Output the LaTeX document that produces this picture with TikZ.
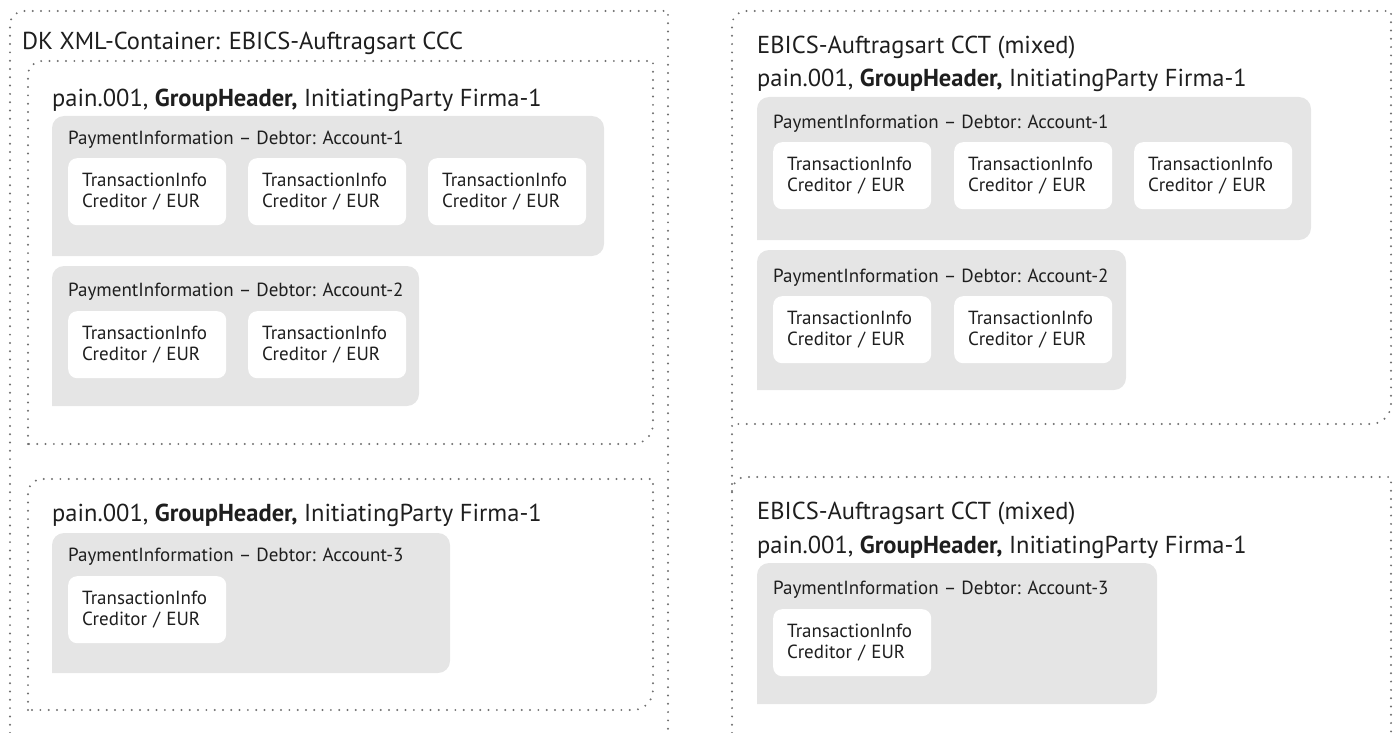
\documentclass[tikz,border=0pt]{standalone}
\usepackage{fontspec}
\setmainfont{PT Sans}
\usepackage{tikz}
\usetikzlibrary{calc}
\definecolor{boxgray}{HTML}{E5E5E5}
\definecolor{dotgray}{HTML}{707070}
\definecolor{inktext}{HTML}{1E1E1E}

\begin{document}
\begin{tikzpicture}[x=1pt, y=1pt,
    frame/.style={draw=dotgray, line width=2.2pt, line cap=round, dash pattern=on 0pt off 8.3pt},
    title/.style={anchor=west, inner sep=0pt, text=inktext, font=\fontsize{24.5}{29}\selectfont},
    pilabel/.style={anchor=west, inner sep=0pt, text=inktext, font=\fontsize{19}{20.5}\selectfont},
    tibox/.style={fill=white, rounded corners=9pt, anchor=north west, minimum width=158pt, minimum height=67pt,
      text width=130pt, inner xsep=14pt, inner ysep=0pt, align=left, text=inktext, font=\fontsize{19}{20.5}\selectfont}]
  \useasboundingbox (0,0) rectangle (1397,-733);

  \draw[frame] (10,-733) [rounded corners=14pt] -- (10,-11) [sharp corners] -- (668,-11) -- (668,-733);
  \node[title] (dk) at (22,-43) {DK XML-Container: EBICS-Auftragsart CCC};

  \draw[frame] (28,-444) [rounded corners=14pt] -- (28,-61) [sharp corners] -- (653,-61) [rounded corners=20pt] -- (653,-444) [sharp corners] -- cycle;
  \node[title] (gh1) at (52,-100) {pain.001, \textbf{GroupHeader,} InitiatingParty Firma-1};
  \fill[boxgray] (52,-256) [rounded corners=12pt] -- (52,-116) -- (604,-116) -- (604,-256) [sharp corners] -- cycle;
  \node[pilabel] (pi1) at (68,-140) {PaymentInformation -- Debtor: Account-1};
  \node[tibox] (ti11) at (68,-158) {TransactionInfo\\Creditor / EUR};
  \node[tibox] (ti12) at (248,-158) {TransactionInfo\\Creditor / EUR};
  \node[tibox] (ti13) at (428,-158) {TransactionInfo\\Creditor / EUR};
  \fill[boxgray] (52,-406) [rounded corners=12pt] -- (52,-266) -- (419,-266) -- (419,-406) [sharp corners] -- cycle;
  \node[pilabel] (pi2) at (68,-292) {PaymentInformation -- Debtor: Account-2};
  \node[tibox] (ti21) at (68,-311) {TransactionInfo\\Creditor / EUR};
  \node[tibox] (ti22) at (248,-311) {TransactionInfo\\Creditor / EUR};

  \draw[frame] (28,-710) [rounded corners=14pt] -- (28,-479) [sharp corners] -- (653,-479) [rounded corners=20pt] -- (653,-710) [sharp corners] -- cycle;
  \node[title] (gh2) at (52,-515) {pain.001, \textbf{GroupHeader,} InitiatingParty Firma-1};
  \fill[boxgray] (52,-673) [rounded corners=12pt] -- (52,-533) -- (450,-533) -- (450,-673) [sharp corners] -- cycle;
  \node[pilabel] (pi3) at (68,-557) {PaymentInformation -- Debtor: Account-3};
  \node[tibox] (ti31) at (68,-576) {TransactionInfo\\Creditor / EUR};

  \draw[frame] (732,-733) [rounded corners=14pt] -- (732,-11) [sharp corners] -- (1391,-11) [rounded corners=20pt] -- (1391,-424) [sharp corners] -- (732,-424);
  \node[title] (cct1) at (757,-47) {EBICS-Auftragsart CCT (mixed)};
  \node[title] (gh3) at (757,-80) {pain.001, \textbf{GroupHeader,} InitiatingParty Firma-1};
  \fill[boxgray] (757,-240) [rounded corners=12pt] -- (757,-97) -- (1311,-97) -- (1311,-240) [sharp corners] -- cycle;
  \node[pilabel] (pi4) at (773,-124) {PaymentInformation -- Debtor: Account-1};
  \node[tibox] (ti41) at (773,-142) {TransactionInfo\\Creditor / EUR};
  \node[tibox] (ti42) at (954,-142) {TransactionInfo\\Creditor / EUR};
  \node[tibox] (ti43) at (1134,-142) {TransactionInfo\\Creditor / EUR};
  \fill[boxgray] (757,-390) [rounded corners=12pt] -- (757,-250) -- (1126,-250) -- (1126,-390) [sharp corners] -- cycle;
  \node[pilabel] (pi5) at (773,-278) {PaymentInformation -- Debtor: Account-2};
  \node[tibox] (ti51) at (773,-296) {TransactionInfo\\Creditor / EUR};
  \node[tibox] (ti52) at (954,-296) {TransactionInfo\\Creditor / EUR};

  \draw[frame] (732,-491) [rounded corners=14pt] -- (732,-477) [sharp corners] -- (1391,-477) -- (1391,-733);
  \node[title] (cct2) at (757,-513) {EBICS-Auftragsart CCT (mixed)};
  \node[title] (gh4) at (757,-547) {pain.001, \textbf{GroupHeader,} InitiatingParty Firma-1};
  \fill[boxgray] (757,-704) [rounded corners=12pt] -- (757,-563) -- (1157,-563) -- (1157,-704) [sharp corners] -- cycle;
  \node[pilabel] (pi6) at (773,-590) {PaymentInformation -- Debtor: Account-3};
  \node[tibox] (ti61) at (773,-609) {TransactionInfo\\Creditor / EUR};
\end{tikzpicture}
\end{document}
